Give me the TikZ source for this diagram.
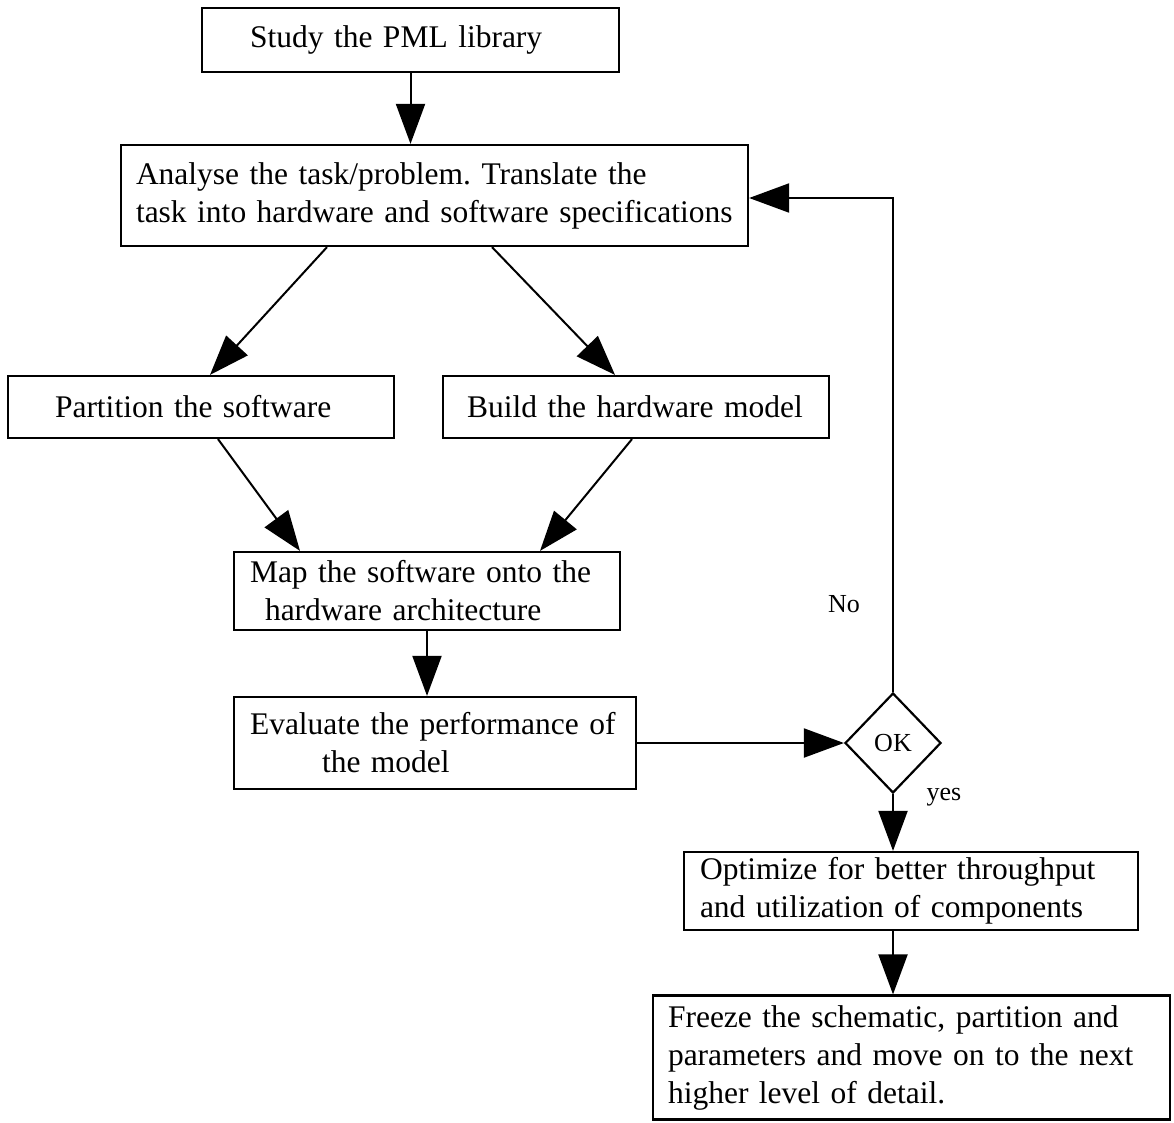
\documentclass[tikz,border=0pt]{standalone}
\usepackage{fontspec}
\setmainfont{Liberation Serif}
\usetikzlibrary{arrows.meta,shapes.geometric,calc}
\frenchspacing

\begin{document}
\begin{tikzpicture}[x=1pt,y=-1pt,
  line width=2.2pt,
  flowbox/.style={draw, rectangle, align=left, inner ysep=0pt,
    font=\fontsize{31.5}{38}\selectfont},
  conn/.style={-{Triangle[length=40pt,width=29pt]}, line width=2pt},
  lbl/.style={font=\fontsize{26}{30}\selectfont, inner sep=0pt}]
  \useasboundingbox (0,0) rectangle (1174,1122);

  % process boxes: centre, outer size, left padding
  \node[flowbox, minimum width=417pt, minimum height=64pt, inner xsep=48pt,
        text width=321pt] (study) at (410.5,40) {Study the PML library};
  \node[flowbox, minimum width=627pt, minimum height=101pt, inner xsep=15pt,
        text width=597pt] (analyse) at (434.5,195.5)
        {Analyse the task/problem. Translate the\\task into hardware and software specifications};
  \node[flowbox, minimum width=386pt, minimum height=62pt, inner xsep=47pt,
        text width=292pt] (partition) at (201,407) {Partition the software};
  \node[flowbox, minimum width=386pt, minimum height=62pt, inner xsep=24pt,
        text width=338pt] (build) at (636,407) {Build the hardware model};
  \node[flowbox, minimum width=386pt, minimum height=78pt, inner xsep=16pt,
        text width=354pt] (map) at (427,591)
        {Map the software onto the\\\hspace*{15pt}hardware architecture};
  \node[flowbox, minimum width=402pt, minimum height=92pt, inner xsep=16pt,
        text width=370pt] (evaluate) at (435,743)
        {Evaluate the performance of\\\hspace*{72pt}the model};
  \node[draw, diamond, minimum width=96pt, minimum height=100pt, inner sep=0pt,
        font=\fontsize{26}{30}\selectfont] (ok) at (893,743) {OK};
  \node[flowbox, minimum width=454pt, minimum height=78pt, inner xsep=16pt,
        text width=422pt] (optimize) at (911,891)
        {Optimize for better throughput\\and utilization of components};
  \node[flowbox, minimum width=517pt, minimum height=124pt, inner xsep=15pt,
        text width=487pt] (freeze) at (911.5,1057.5)
        {Freeze the schematic, partition and\\parameters and move on to the next\\higher level of detail.};

  % branch labels
  \node[lbl] (no) at (844,604) {No};
  \node[lbl] (yes) at (944,797) {yes};

  % connectors
  \draw[conn] (study.south) -- (study.south |- analyse.north);
  \draw[conn] ([xshift=-107.5pt]analyse.south) -- ([xshift=9pt]partition.north);
  \draw[conn] ([xshift=57.5pt]analyse.south) -- ([xshift=-21pt]build.north);
  \draw[conn] ([xshift=17pt]partition.south) -- ([xshift=-127pt]map.north);
  \draw[conn] ([xshift=-4pt]build.south) -- ([xshift=113pt]map.north);
  \draw[conn] (map.south) -- (map.south |- evaluate.north);
  \draw[conn] (evaluate.east |- ok.west) -- (ok.west);
  \draw[conn] (ok.north) |- ([yshift=-2.5pt]analyse.east);
  \draw[conn] (ok.south) -- (ok.south |- optimize.north);
  \draw[conn] (ok.south |- optimize.south) -- (ok.south |- freeze.north);
\end{tikzpicture}
\end{document}
